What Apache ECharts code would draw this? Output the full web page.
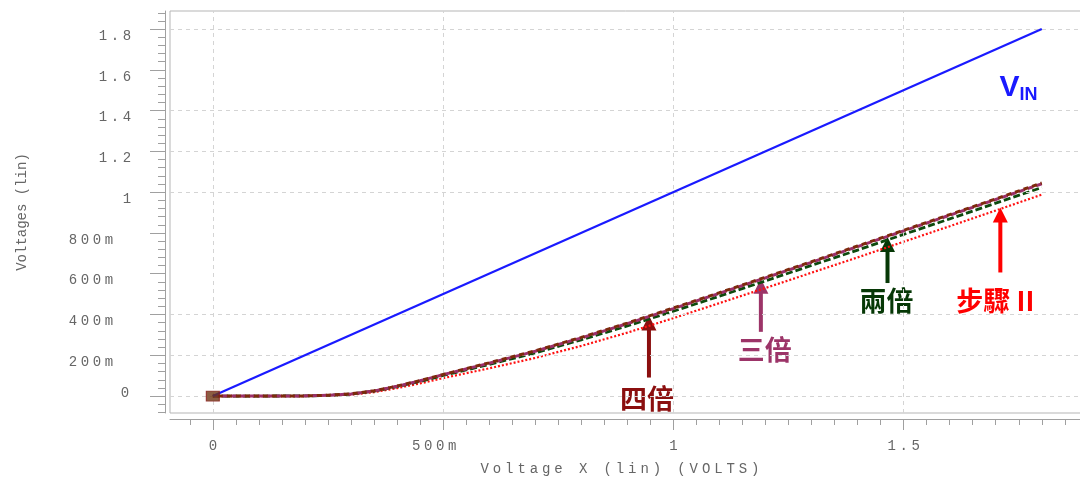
<!DOCTYPE html>
<html><head><meta charset="utf-8">
<script src="https://cdn.jsdelivr.net/npm/echarts@6/dist/echarts.min.js"></script>
<style>html,body{margin:0;padding:0;background:#fff}#c{width:1080px;height:479px}</style>
</head><body><div id="c"></div>
<script>
// ---- data ----
const xVals  = [0,0.1,0.2,0.25,0.3,0.35,0.4,0.45,0.5,0.6,0.7,0.8,0.9,1.0,1.1,1.2,1.3,1.4,1.5,1.6,1.7,1.8];
const four   = [0,0,0.001,0.004,0.011,0.026,0.049,0.076,0.106,0.163,0.222,0.288,0.358,0.432,0.507,0.583,0.659,0.736,0.813,0.890,0.967,1.045];
const three  = [0,0,0.001,0.004,0.010,0.025,0.048,0.075,0.105,0.161,0.220,0.285,0.355,0.429,0.504,0.580,0.656,0.733,0.810,0.887,0.964,1.041];
const two    = [0,0,0.001,0.003,0.010,0.024,0.046,0.072,0.101,0.155,0.212,0.276,0.344,0.416,0.490,0.565,0.641,0.716,0.793,0.869,0.946,1.023];
const stepII = [0,0,0,0.002,0.007,0.019,0.039,0.062,0.088,0.136,0.187,0.246,0.311,0.382,0.456,0.530,0.605,0.680,0.757,0.833,0.910,0.988];
const vinX   = [0,1.8];
const vinY   = [0,1.8];
// ---- ticks ----
const majorX = [0,0.5,1,1.5];
const majorY = [0,0.2,0.4,0.6,0.8,1,1.2,1.4,1.6,1.8];
const labelY = [0.2,0.4,0.6,0.8,1,1.2,1.4,1.6,1.8];
const gridY  = [0,0.2,0.4,1,1.2,1.4,1.8];
const gridX  = [0,0.5,1,1.5];
const minorX = []; for (let k=-1;k<=37;k++) minorX.push(+(k*0.05).toFixed(2));
const minorY = []; for (let k=-2;k<=47;k++) minorY.push(+(k*0.04).toFixed(2));
const X_MIN=-0.093, X_MAX=1.896, Y_MIN=-0.083, Y_MAX=1.8886;

const MONO = '"Liberation Mono","DejaVu Sans Mono",monospace';
const GRAY = '#666666', AXC = '#a0a0a0';
function fmt(v){ v=Math.round(v*1000)/1000; if(v===0) return '0'; if(Math.abs(v)<1) return Math.round(v*1000)+'m'; return String(v); }
function spaced(s, tag){ tag=tag||'c'; let out=s.split('').map(ch=>'{'+tag+'|'+ch+'}').join(''); if(/m$/.test(s)) out+='{p| }'; return out; }
const rich = {
  c:{width:12, align:'center', fontFamily:MONO, fontSize:14, color:GRAY},
  p:{width:18, fontSize:14}
};
const nameRich = { n:{width:12.3, align:'center', fontFamily:MONO, fontSize:14, color:GRAY} };

const mk = (ys)=>xVals.map((x,i)=>[x, ys[i]]);
const option = {
  animation:false,
  backgroundColor:'#fff',
  grid:{left:170, right:-6, top:11, bottom:66, show:true, borderColor:'#b5b5b5', borderWidth:1, containLabel:false, outerBoundsMode:'none'},
  xAxis:[
    {type:'value', min:X_MIN, max:X_MAX, position:'bottom', offset:6,
     axisLine:{show:true,onZero:false,lineStyle:{color:AXC}},
     axisTick:{show:true, customValues:majorX, length:11, lineStyle:{color:AXC}},
     axisLabel:{show:true, customValues:majorX, margin:20, formatter:v=>spaced(fmt(v)), rich:rich},
     splitLine:{show:false},
     name:spaced('Voltage X (lin) (VOLTS)','n'), nameLocation:'middle', nameGap:43,
     nameTextStyle:{rich:nameRich, padding:[0,16,0,0]}},
    {type:'value', min:X_MIN, max:X_MAX, position:'bottom', offset:6,
     axisLine:{show:false,onZero:false},
     axisTick:{show:true, customValues:minorX, length:6, lineStyle:{color:AXC}},
     axisLabel:{show:false}, splitLine:{show:false}}
  ],
  yAxis:[
    {type:'value', min:Y_MIN, max:Y_MAX, position:'left', offset:5,
     axisLine:{show:true,onZero:false,lineStyle:{color:AXC}},
     axisTick:{show:true, customValues:majorY, length:15, lineStyle:{color:AXC}},
     axisLabel:{show:true, customValues:labelY, margin:32, padding:[14,0,0,0], formatter:v=>spaced(fmt(v)), rich:rich},
     splitLine:{show:false},
     name:'Voltages (lin)', nameLocation:'middle', nameGap:136,
     nameTextStyle:{fontFamily:MONO, fontSize:14, color:GRAY}},
    {type:'value', min:Y_MIN, max:Y_MAX, position:'left', offset:5,
     axisLine:{show:false,onZero:false},
     axisTick:{show:true, customValues:minorY, length:7, lineStyle:{color:AXC}},
     axisLabel:{show:true, customValues:[0], margin:34, padding:[0,0,6,0], formatter:v=>spaced(fmt(v)), rich:rich},
     splitLine:{show:false}}
  ],
  series:[
    {type:'line', data:[], silent:true, z:1,
     markLine:{silent:true, symbol:['none','none'], label:{show:false}, animation:false,
       lineStyle:{color:'#d4d4d4', type:[4,4], width:1},
       data:gridY.map(v=>({yAxis:v})).concat(gridX.map(v=>({xAxis:v})))}},
    {name:'步驟II', type:'line', data:mk(stepII), showSymbol:false, silent:true, z:3,
     lineStyle:{color:'#ff1010', width:2.2, type:[2,2]}},
    {name:'兩倍', type:'line', data:mk(two), showSymbol:false, silent:true, z:4,
     lineStyle:{color:'#0d4a0d', width:2.8, type:[7,3]}},
    {name:'三倍', type:'line', data:mk(three), showSymbol:false, silent:true, z:5,
     lineStyle:{color:'#9c2f6a', width:3, type:[6,3]}},
    {name:'四倍', type:'line', data:mk(four), showSymbol:false, silent:true, z:6,
     lineStyle:{color:'#7d2a0c', width:3, type:[5,4], dashOffset:4}},
    {name:'VIN', type:'line', data:vinX.map((x,i)=>[x,vinY[i]]), showSymbol:false, silent:true, z:7,
     lineStyle:{color:'#1a1aff', width:2.2}},
    {type:'scatter', data:[[xVals[0], four[0]]], symbol:'rect', symbolSize:[13,10], silent:true, z:8,
     itemStyle:{color:'#6e3514', borderColor:'#8b1a1a', borderWidth:1}}
  ]
};
const chart = echarts.init(document.getElementById('c'), null, {renderer:'canvas'});
chart.setOption(option);

const P = (x,y)=>chart.convertToPixel({xAxisIndex:0,yAxisIndex:0},[x,y]);
const CJK = '"Noto Sans CJK TC","Noto Sans CJK SC",sans-serif';
const notes = [
  {text:'四倍',    color:'#8b0f0f', tip:[0.947,0.395], len:62, dx:-2, dy:83},
  {text:'三倍',    color:'#9c3468', tip:[1.19,0.575],  len:53, dx:4,  dy:71},
  {text:'兩倍',    color:'#063806', tip:[1.465,0.78],  len:46, dx:-1, dy:64},
  {text:'步驟 II', color:'#ff0000', tip:[1.71,0.925],  len:65, dx:-5, dy:93}
];
const g = [];
notes.forEach(n=>{
  const [px,py] = P(n.tip[0], n.tip[1]);
  g.push({type:'line', silent:true, shape:{x1:px,y1:py+12,x2:px,y2:py+n.len}, style:{stroke:n.color,lineWidth:4}});
  g.push({type:'polygon', silent:true, shape:{points:[[px,py],[px-7.5,py+15],[px+7.5,py+15]]}, style:{fill:n.color}});
  g.push({type:'text', silent:true, style:{text:n.text, x:px+n.dx, y:py+n.dy, fill:n.color, font:'bold 27px '+CJK, align:'center', verticalAlign:'middle'}});
});
const [vx,vy] = P(1.708,1.51);
g.push({type:'text', silent:true, style:{text:'V', x:vx, y:vy, fill:'#1a1aff', font:'bold 30px "Liberation Sans",Arial,sans-serif', align:'left', verticalAlign:'middle'}});
g.push({type:'text', silent:true, style:{text:'IN', x:vx+20, y:vy+7, fill:'#1a1aff', font:'bold 18px "Liberation Sans",Arial,sans-serif', align:'left', verticalAlign:'middle'}});
chart.setOption({graphic:g});
</script></body></html>
